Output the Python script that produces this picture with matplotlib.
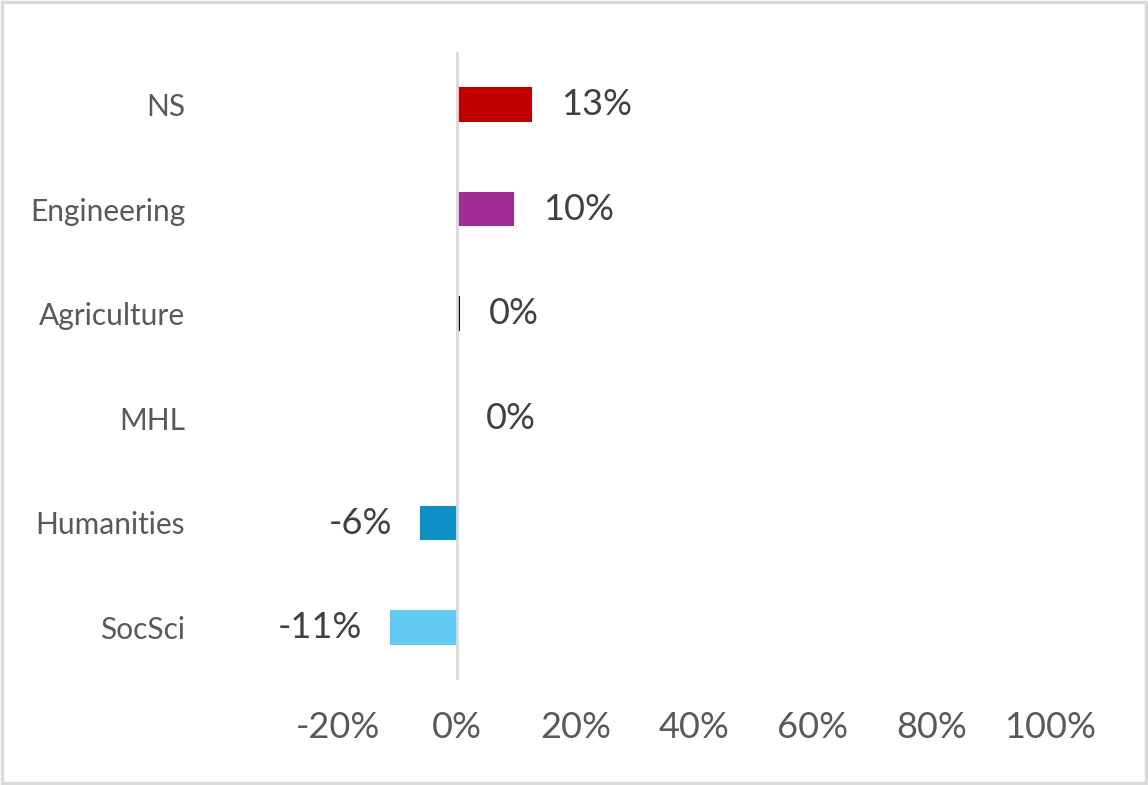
import matplotlib.pyplot as plt
from matplotlib.patches import Rectangle

categories = ['NS', 'Engineering', 'Agriculture', 'MHL', 'Humanities', 'SocSci']
values = [12.7, 9.6, 0.49, 0.0, -6.2, -11.3]
colors = ['#C00000', '#A02B93', '#000000', '#FFFFFF', '#0E8FC6', '#61CBF3']
xticks = [-20, 0, 20, 40, 60, 80, 100]

plt.rcParams['font.family'] = ['Lato', 'DejaVu Sans']

fig = plt.figure(figsize=(11.48, 7.85), dpi=100)
ax = fig.add_axes([338 / 1148, 1 - 680 / 785, (1050 - 338) / 1148, (680 - 52) / 785])

ypos = list(range(len(categories)))
ax.barh(ypos, values, height=0.33, color=colors, zorder=2)

# zero axis line drawn over the bars
ax.axvline(0, color='#D9D9D9', linewidth=2.0, zorder=3)

for y, v in zip(ypos, values):
    label = f'{round(v):.0f}%'
    if v < 0:
        ax.annotate(label, (v, y), xytext=(-20, 0), textcoords='offset points',
                    ha='right', va='center', fontsize=26, color='#404040')
    else:
        ax.annotate(label, (v, y), xytext=(21, 0), textcoords='offset points',
                    ha='left', va='center', fontsize=26, color='#404040')

ax.set_xlim(-20, 100)
ax.set_ylim(len(categories) - 0.5, -0.5)
ax.set_xticks(xticks)
ax.set_xticklabels([f'{t}%' for t in xticks], fontsize=26, color='#595959')
ax.set_yticks(ypos)
ax.set_yticklabels(categories, fontsize=21.5, color='#595959')
ax.tick_params(axis='y', length=0, pad=110)
ax.tick_params(axis='x', length=0, pad=22)
for s in ax.spines.values():
    s.set_visible(False)

fig.patches.append(Rectangle((0.0015, 0.002), 0.997, 0.996, transform=fig.transFigure,
                             fill=False, edgecolor='#D9D9D9', linewidth=2.5))

fig.savefig('out.png', dpi=100)
